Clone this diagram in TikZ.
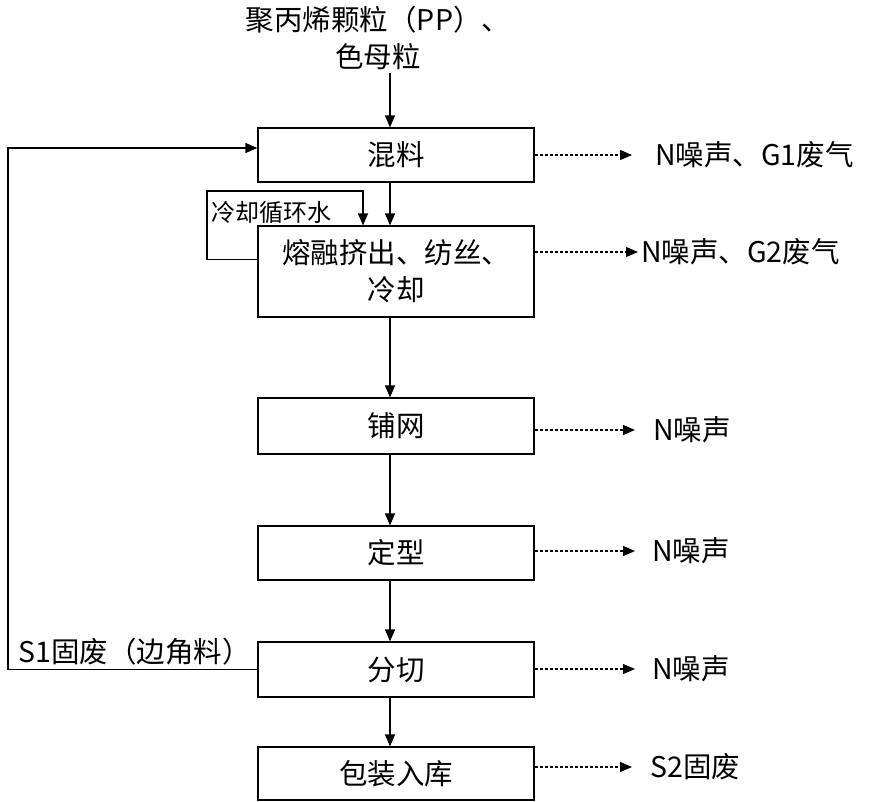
\documentclass[tikz,border=0pt]{standalone}
\usepackage{fontspec}
\setmainfont{Noto Sans CJK SC}
\usetikzlibrary{arrows.meta,positioning}

\begin{document}
\begin{tikzpicture}[x=1bp,y=-1bp,
    font=\fontsize{28.5bp}{37bp}\selectfont,
    stage/.style={draw,line width=1.2bp,minimum width=276bp,inner sep=0pt,align=center},
    flow/.style={line width=1.2bp,-{Triangle[length=12bp,width=10bp]}},
    emit/.style={flow,dash pattern=on 3bp off 2bp},
    result/.style={anchor=west,inner sep=0pt}]
  \useasboundingbox (0,0) rectangle (872,802);
  \coordinate (axis) at (390,0);

  % raw material and process stages
  \node[align=center] (raw) at (378,38) {聚丙烯颗粒（PP）、\\色母粒};
  \node[stage,minimum height=54bp] (mix)  at (396,155)   {混料};
  \node[stage,minimum height=91bp] (melt) at (396,271.5) {熔融挤出、纺丝、\\冷却};
  \node[stage,minimum height=56bp] (web)  at (396,426)   {铺网};
  \node[stage,minimum height=54bp] (shape) at (396,553)  {定型};
  \node[stage,minimum height=55bp] (cut)  at (396,669.5) {分切};
  \node[stage,minimum height=53bp] (pack) at (396,773.5) {包装入库};

  \draw[flow] (raw.south -| axis) -- (mix.north -| axis);
  \foreach \a/\b in {mix/melt,melt/web,web/shape,shape/cut,cut/pack}
    \draw[flow] (\a.south -| axis) -- (\b.north -| axis);

  % emissions
  \node[result] (o1) at (655,155) {N噪声、G1废气};
  \node[result] (o2) at (641,252) {N噪声、G2废气};
  \node[result] (o3) at (653,430) {N噪声};
  \node[result] (o4) at (652,551) {N噪声};
  \node[result] (o5) at (652,669) {N噪声};
  \node[result] (o6) at (650,767) {S2固废};
  \foreach \s/\o/\g in {mix/o1/23bp,melt/o2/3bp,web/o3/18bp,shape/o4/17bp,cut/o5/17bp,pack/o6/18bp}
    \draw[emit] (\s.east |- \o.west) -- ([xshift=-\g]\o.west);

  % scrap returned to mixing
  \coordinate (fb) at (8,148);
  \draw[flow] (cut.west) -| (fb) -- (fb -| mix.west);
  \node[result] (scrap) at (18,652) {S1固废（边角料）};

  % cooling water loop
  \coordinate (cw) at (207,191);
  \draw[flow] ([yshift=12bp]melt.west) -| (cw) -| ([xshift=-33bp]melt.north);
  \node[result,font=\fontsize{24bp}{28bp}\selectfont] (cwl) at (211,212) {冷却循环水};
\end{tikzpicture}
\end{document}
